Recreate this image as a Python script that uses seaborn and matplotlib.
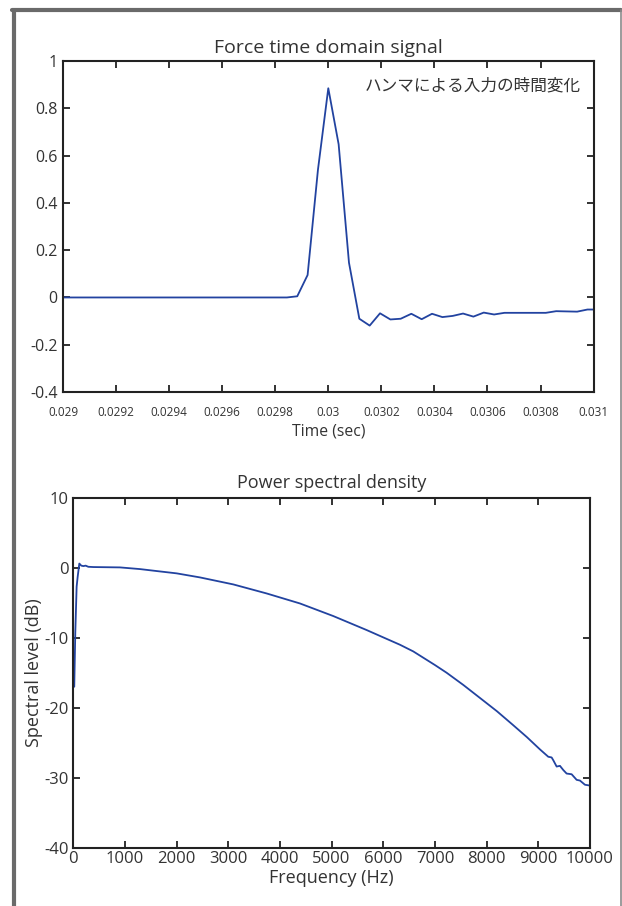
import matplotlib
matplotlib.use("Agg")
import matplotlib.pyplot as plt
import seaborn as sns
from matplotlib.lines import Line2D

# force signal (hammer impact), time in sec
time_s = [0.029000, 0.029844, 0.029883, 0.029922, 0.029961, 0.030000, 0.030039,
          0.030078, 0.030117, 0.030156, 0.030195, 0.030234, 0.030273, 0.030313,
          0.030352, 0.030391, 0.030430, 0.030469, 0.030508, 0.030547, 0.030586,
          0.030625, 0.030664, 0.030703, 0.030742, 0.030781, 0.030820, 0.030859,
          0.030898, 0.030938, 0.030977, 0.031016]
force = [0.0, 0.0, 0.005, 0.095, 0.54, 0.885, 0.648,
         0.147, -0.090, -0.119, -0.067, -0.093, -0.090, -0.069,
         -0.092, -0.069, -0.083, -0.078, -0.068, -0.081, -0.064,
         -0.072, -0.065, -0.065, -0.065, -0.065, -0.065, -0.058,
         -0.059, -0.060, -0.051, -0.051]

# power spectral density
freq_hz = [19, 39, 65, 85, 117, 155, 194, 240, 290, 390, 600, 904, 1291, 1613,
           2000, 2452, 3097, 3742, 4387, 5032, 5678, 6000, 6323, 6580, 7000,
           7226, 7550, 7871, 8200, 8516, 8780, 9032, 9193, 9258, 9290, 9355,
           9419, 9484, 9548, 9645, 9742, 9806, 9903, 9987]
level_db = [-17.0, -9.3, -2.7, -1.3, 0.6, 0.3, 0.24, 0.3, 0.14, 0.1, 0.08, 0.05,
            -0.19, -0.47, -0.8, -1.38, -2.38, -3.67, -5.1, -6.9, -8.9, -9.95,
            -11.0, -11.95, -13.9, -15.0, -16.75, -18.6, -20.5, -22.5, -24.2,
            -25.95, -27.0, -27.1, -27.5, -28.4, -28.3, -28.9, -29.4, -29.5,
            -30.3, -30.4, -31.0, -31.1]

t_ticks = [0.029, 0.0292, 0.0294, 0.0296, 0.0298, 0.030, 0.0302, 0.0304,
           0.0306, 0.0308, 0.031]
t_labels = ["0.029", "0.0292", "0.0294", "0.0296", "0.0298", "0.03", "0.0302",
            "0.0304", "0.0306", "0.0308", "0.031"]
f_ticks = list(range(0, 10001, 1000))
force_ticks = [-0.4, -0.2, 0, 0.2, 0.4, 0.6, 0.8, 1]
force_labels = ["-0.4", "-0.2", "0", "0.2", "0.4", "0.6", "0.8", "1"]
db_ticks = [-40, -30, -20, -10, 0, 10]

sns.set_theme(style="white")
plt.rcParams['font.family'] = ['Open Sans', 'Noto Sans CJK JP', 'DejaVu Sans']

line_col = "#2243a0"
spine_col = "#222222"
txt_col = "#333333"

fig = plt.figure(figsize=(6.22, 9.06), dpi=100)
ax1 = fig.add_axes([0.1013, 0.5673, 0.853, 0.3653])
ax2 = fig.add_axes([0.1178, 0.0643, 0.8307, 0.3863])

sns.lineplot(x=time_s, y=force, ax=ax1, color=line_col, linewidth=1.3,
             estimator=None, sort=False)
ax1.set_xlim(0.029, 0.031)
ax1.set_ylim(-0.4, 1)
ax1.set_xticks(t_ticks)
ax1.set_xticklabels(t_labels, fontsize=8.5)
ax1.set_yticks(force_ticks)
ax1.set_yticklabels(force_labels, fontsize=11.5)
ax1.set_title("Force time domain signal", fontsize=14, color=txt_col, pad=6)
ax1.set_xlabel("Time (sec)", fontsize=11.3, color=txt_col, labelpad=3)
ax1.text(0.977, 0.925, "ハンマによる入力の時間変化", transform=ax1.transAxes,
         ha="right", va="center", fontsize=12, color=txt_col,
         family=['Noto Sans CJK JP', 'DejaVu Sans'])

sns.lineplot(x=freq_hz, y=level_db, ax=ax2, color=line_col, linewidth=1.3,
             estimator=None, sort=False)
ax2.set_xlim(0, 10000)
ax2.set_ylim(-40, 10)
ax2.set_xticks(f_ticks)
ax2.set_xticklabels([str(v) for v in f_ticks], fontsize=12)
ax2.set_yticks(db_ticks)
ax2.set_yticklabels([str(v) for v in db_ticks], fontsize=12)
ax2.set_title("Power spectral density", fontsize=13, color=txt_col, pad=7)
ax2.set_xlabel("Frequency (Hz)", fontsize=13, color=txt_col, labelpad=2)
ax2.set_ylabel("Spectral level (dB)", fontsize=13, color=txt_col, labelpad=1)

for ax in (ax1, ax2):
    for s in ax.spines.values():
        s.set_color(spine_col)
        s.set_linewidth(1.5)
    ax.tick_params(direction="in", length=5, width=1.3, color=spine_col,
                   top=True, right=True, bottom=True, left=True,
                   labelcolor=txt_col)
    ax.grid(False)

ax1.tick_params(axis="x", pad=10)
ax1.tick_params(axis="y", pad=4)
ax2.tick_params(axis="x", pad=2)
ax2.tick_params(axis="y", pad=3.5)

# outer frame
fig.add_artist(Line2D([14 / 622, 14 / 622], [0, 1 - 10 / 906],
                      transform=fig.transFigure, color="#6a6a6a", linewidth=3))
fig.add_artist(Line2D([12 / 622, 621 / 622], [1 - 10 / 906, 1 - 10 / 906],
                      transform=fig.transFigure, color="#6a6a6a", linewidth=3))
fig.add_artist(Line2D([620.5 / 622, 620.5 / 622], [0, 1 - 10 / 906],
                      transform=fig.transFigure, color="#8a8a8a", linewidth=1.2))

fig.savefig("out.png", dpi=100)
